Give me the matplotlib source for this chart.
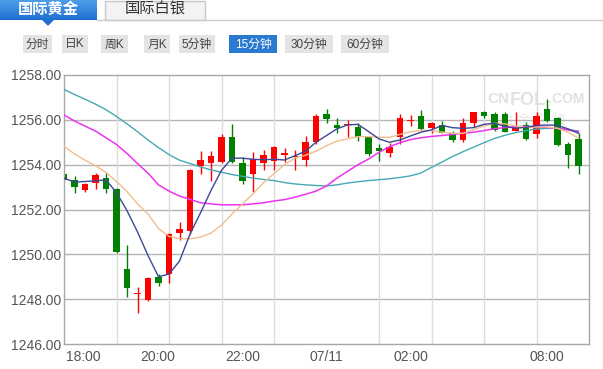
import numpy as np
import matplotlib.pyplot as plt
from matplotlib.patches import Rectangle, Polygon

plt.rcParams['font.family'] = ['Liberation Sans', 'Noto Sans CJK SC', 'DejaVu Sans']

# 15 minute candles, index 0..49
opens = [1253.60, 1253.30, 1252.88, 1253.17, 1253.40, 1252.90, 1249.35, 1248.22, 1247.97, 1249.00,
         1249.13, 1250.97, 1251.05, 1253.96, 1254.06, 1254.14, 1255.25, 1254.09, 1253.58, 1254.06,
         1254.18, 1254.45, 1254.33, 1254.21, 1255.00, 1256.26, 1255.77, 1255.77, 1255.70, 1255.22,
         1254.73, 1254.54, 1255.25, 1255.93, 1256.17, 1255.65, 1255.77, 1255.40, 1255.10, 1255.85,
         1256.34, 1256.25, 1256.25, 1255.50, 1255.77, 1255.36, 1256.48, 1256.10, 1254.93, 1255.14]
closes = [1253.30, 1253.00, 1253.14, 1253.53, 1252.92, 1250.10, 1248.50, 1248.26, 1248.94, 1248.72,
          1250.91, 1251.15, 1253.77, 1254.21, 1254.40, 1255.25, 1254.10, 1253.25, 1254.26, 1254.44,
          1254.78, 1254.50, 1254.39, 1255.00, 1256.19, 1256.04, 1255.62, 1255.82, 1255.22, 1254.48,
          1254.63, 1254.81, 1256.07, 1255.97, 1255.58, 1255.85, 1255.43, 1255.10, 1255.85, 1256.34,
          1256.19, 1255.55, 1255.45, 1255.62, 1255.14, 1256.17, 1255.95, 1254.88, 1254.44, 1253.96]
highs = [1253.65, 1253.50, 1253.18, 1253.62, 1253.65, 1252.95, 1250.40, 1248.55, 1249.00, 1249.13,
         1250.95, 1251.44, 1253.80, 1254.63, 1254.63, 1255.37, 1255.82, 1254.36, 1254.56, 1254.66,
         1254.85, 1254.73, 1254.66, 1255.28, 1256.26, 1256.47, 1256.07, 1256.00, 1255.87, 1255.28,
         1254.91, 1254.98, 1256.26, 1256.22, 1256.44, 1255.92, 1255.96, 1255.48, 1256.07, 1256.37,
         1256.40, 1256.37, 1256.37, 1256.37, 1255.92, 1256.37, 1256.93, 1256.13, 1255.03, 1255.40]
lows = [1253.30, 1252.75, 1252.76, 1252.92, 1252.73, 1250.05, 1248.10, 1247.40, 1247.90, 1248.57,
        1248.72, 1250.65, 1250.90, 1253.58, 1253.29, 1254.06, 1254.06, 1253.14, 1252.80, 1253.74,
        1253.74, 1254.14, 1253.77, 1253.96, 1254.93, 1255.87, 1255.40, 1255.25, 1255.07, 1254.40,
        1254.18, 1254.33, 1254.93, 1255.73, 1255.55, 1255.40, 1255.40, 1255.03, 1255.03, 1255.70,
        1256.07, 1255.48, 1255.45, 1255.48, 1255.10, 1255.18, 1255.90, 1254.84, 1253.87, 1253.59]

# moving average lines
ma5 = [1253.40, 1253.22, 1253.25, 1253.28, 1253.32, 1252.75, 1251.95, 1251.00, 1249.95, 1249.00,
       1249.12, 1249.70, 1250.90, 1251.85, 1252.85, 1253.75, 1254.29, 1254.29, 1254.24, 1254.22,
       1254.24, 1254.21, 1254.40, 1254.60, 1255.00, 1255.30, 1255.60, 1255.77, 1255.80, 1255.48,
       1255.15, 1255.00, 1255.10, 1255.28, 1255.45, 1255.55, 1255.75, 1255.65, 1255.62, 1255.65,
       1255.80, 1255.85, 1255.70, 1255.63, 1255.66, 1255.75, 1255.77, 1255.75, 1255.60, 1255.40]
ma10 = [1254.82, 1254.48, 1254.20, 1253.95, 1253.65, 1253.25, 1252.80, 1252.25, 1251.80, 1251.15,
        1250.80, 1250.70, 1250.69, 1250.77, 1250.95, 1251.30, 1251.80, 1252.25, 1252.70, 1253.20,
        1253.60, 1254.00, 1254.30, 1254.42, 1254.60, 1254.85, 1255.05, 1255.15, 1255.25, 1255.25,
        1255.22, 1255.22, 1255.35, 1255.47, 1255.53, 1255.52, 1255.45, 1255.40, 1255.40, 1255.55,
        1255.73, 1255.85, 1255.82, 1255.73, 1255.66, 1255.68, 1255.68, 1255.62, 1255.45, 1255.18]
ma20 = [1256.22, 1255.95, 1255.72, 1255.50, 1255.20, 1254.90, 1254.50, 1254.05, 1253.62, 1253.10,
        1252.82, 1252.60, 1252.45, 1252.30, 1252.25, 1252.21, 1252.21, 1252.21, 1252.25, 1252.30,
        1252.38, 1252.44, 1252.55, 1252.68, 1252.82, 1253.05, 1253.40, 1253.70, 1254.00, 1254.25,
        1254.55, 1254.80, 1254.98, 1255.12, 1255.20, 1255.26, 1255.30, 1255.35, 1255.40, 1255.45,
        1255.52, 1255.60, 1255.66, 1255.69, 1255.70, 1255.69, 1255.66, 1255.62, 1255.55, 1255.46]
ma60 = [1257.36, 1257.13, 1256.92, 1256.70, 1256.45, 1256.15, 1255.82, 1255.47, 1255.10, 1254.76,
        1254.45, 1254.20, 1254.05, 1253.90, 1253.77, 1253.66, 1253.56, 1253.48, 1253.40, 1253.34,
        1253.29, 1253.20, 1253.14, 1253.10, 1253.07, 1253.05, 1253.10, 1253.18, 1253.24, 1253.29,
        1253.33, 1253.37, 1253.43, 1253.50, 1253.63, 1253.88, 1254.12, 1254.36, 1254.58, 1254.78,
        1254.98, 1255.17, 1255.31, 1255.43, 1255.52, 1255.59, 1255.62, 1255.62, 1255.57, 1255.50]

time_pos = [1.8, 8.95, 17, 25, 33, 46]
time_labels = ['18:00', '20:00', '22:00', '07/11', '02:00', '08:00']
price_ticks = [1246, 1248, 1250, 1252, 1254, 1256, 1258]

fig = plt.figure(figsize=(6.03, 3.69), dpi=100)

# header widgets + watermark, in pixel coordinates
ui = fig.add_axes([0, 0, 1, 1])
ui.set_xlim(0, 603)
ui.set_ylim(369, 0)
ui.axis('off')

grad = np.linspace(0, 1, 50).reshape(-1, 1)
ui.imshow(grad, extent=[0, 97, 20, 0], cmap=plt.matplotlib.colors.LinearSegmentedColormap.from_list(
    'tab', ['#4f9ee9', '#1d6fd2']), aspect='auto', zorder=1)
ui.add_patch(Polygon([[43, 20], [53, 20], [48, 25]], closed=True, color='#1d6fd2', zorder=1))
ui.text(48, 10, '国际黄金', color='white', fontsize=11, fontweight='bold', ha='center', va='center')
ui.plot([97, 603], [19.5, 19.5], color='#cccccc', lw=1)
ui.add_patch(Rectangle((105, 0.5), 100, 19, facecolor='#f3f3f3', edgecolor='#c8c8c8', lw=1))
ui.text(155, 10, '国际白银', color='#333333', fontsize=11, ha='center', va='center')

buttons = [('分时', 23, 52), ('日K', 62, 88), ('周K', 101, 128), ('月K', 144, 170),
           ('5分钟', 179, 215), ('15分钟', 229, 277), ('30分钟', 285, 333), ('60分钟', 341, 389)]
for name, x0, x1 in buttons:
    active = name == '15分钟'
    ui.add_patch(Rectangle((x0, 35), x1 - x0, 18, facecolor='#2a7ad2' if active else '#e4e4e4',
                           edgecolor='none'))
    ui.text((x0 + x1) / 2, 44.5, name, color='white' if active else '#444444', fontsize=8.5,
            ha='center', va='center')

# faint site watermark
ui.text(487, 103, 'CN', fontsize=11, fontweight='bold', color='#e2e2e2', ha='left', va='baseline')
ui.text(510, 105, 'FOL', fontsize=13, fontweight='bold', color='#e2e2e2', ha='left', va='baseline')
ui.text(548, 103, '.COM', fontsize=10, fontweight='bold', color='#e2e2e2', ha='left', va='baseline')
ui.text(533, 121, '中 金 在 线', fontsize=10, color='#ebebeb', ha='center', va='center')

# chart
ax = fig.add_axes([64 / 603, 25 / 369, 525 / 603, 269 / 369])
ax.patch.set_alpha(0)
idx = np.arange(len(opens))
o = np.array(opens)
c = np.array(closes)
colors = np.where(c >= o, '#ff0000', '#008000')
bottoms = np.minimum(o, c)
heights = np.maximum(np.abs(c - o), 0.045)

ax.vlines(idx, lows, highs, colors=colors, lw=1, zorder=2)
ax.bar(idx, heights, bottom=bottoms, width=0.64, color=colors, zorder=2)

ax.plot(idx, ma60, color='#45a9b3', lw=1, zorder=3)
ax.plot(idx, ma20, color='#ee33ee', lw=1.1, zorder=3)
ax.plot(idx, ma10, color='#f2bd8f', lw=1, zorder=3)
ax.plot(idx, ma5, color='#3d4797', lw=1, zorder=3)

ax.set_xlim(0, 50)
ax.set_ylim(1246, 1258)
ax.set_yticks(price_ticks)
ax.set_yticklabels(['%.2f' % p for p in price_ticks])
ax.set_xticks(time_pos)
ax.set_xticklabels(time_labels)
ax.set_xticks(np.arange(5, 50, 5), minor=True)
ax.tick_params(axis='both', which='both', length=0, labelsize=10, colors='#555555')
ax.tick_params(axis='y', pad=2)
ax.tick_params(axis='x', pad=4)
ax.grid(False)
for p in price_ticks[1:-1]:
    ax.axhline(p, color='#b4b4b4', lw=1, zorder=0)
ax.grid(True, which='minor', axis='x', color='#dcdcdc', lw=1, zorder=0)
for side in ['left', 'bottom', 'right', 'top']:
    ax.spines[side].set_color('#a8a8a8')
    ax.spines[side].set_linewidth(1)

fig.savefig('out.png', dpi=100)
